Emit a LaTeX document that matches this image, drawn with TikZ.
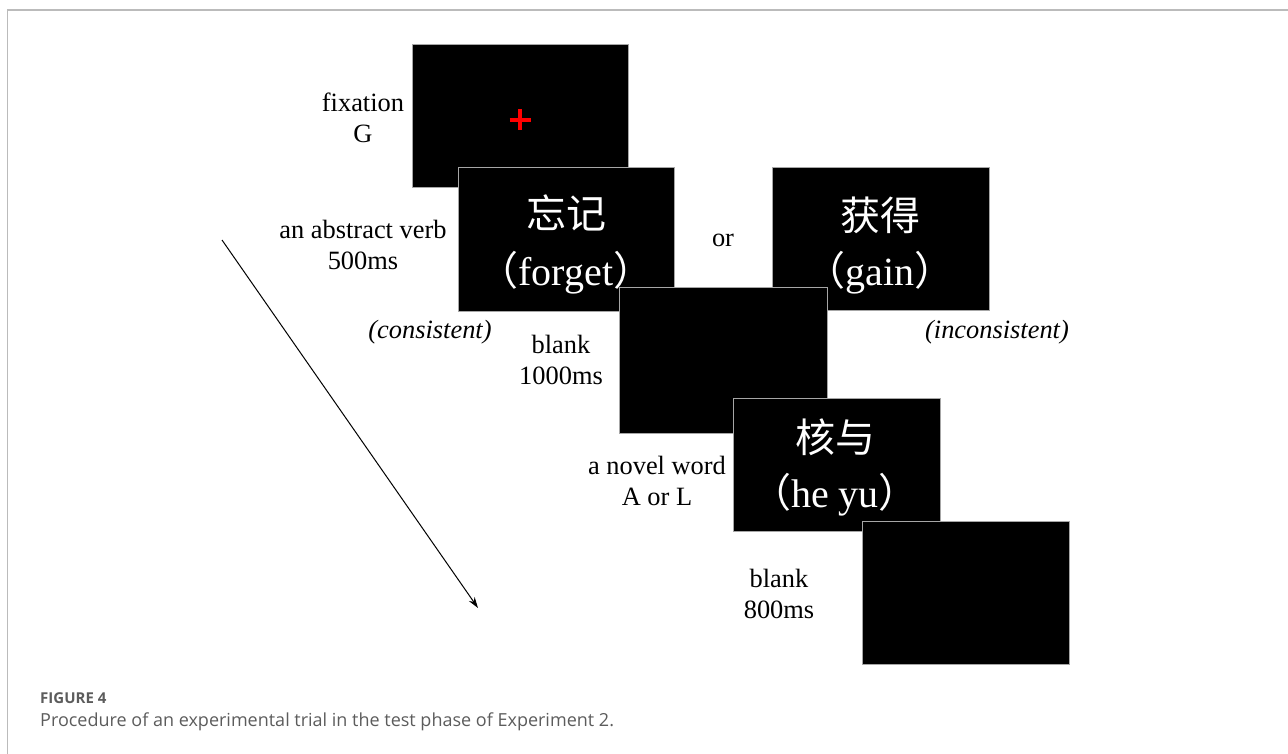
\documentclass[tikz,border=0pt]{standalone}
\usepackage{fontspec}
\setmainfont{Liberation Serif}
\newfontfamily\cjk{Noto Sans CJK SC}
\newfontfamily\capfont{Open Sans}
\usetikzlibrary{arrows.meta}
\definecolor{framegray}{HTML}{BBBBBB}
\definecolor{capgray}{HTML}{5C5C5C}
\tikzset{
  screen/.style={fill=black, draw=gray!70, line width=0.8pt, anchor=north west, inner sep=0pt},
  lbl/.style={align=center, inner sep=0pt, font=\fontsize{26.4}{31}\selectfont},
  ilbl/.style={inner sep=0pt, font=\fontsize{26.4}{31}\selectfont\itshape},
  cjkword/.style={text=white, inner sep=0pt, font=\fontsize{40}{44}\selectfont\cjk},
  latword/.style={text=white, inner sep=0pt, font=\fontsize{40}{44}\selectfont},
}
\begin{document}
\begin{tikzpicture}[x=1pt,y=-1pt]
\useasboundingbox (0,0) rectangle (1288,754);
% frame
\draw[framegray, line width=1.5pt] (7.3,760) -- (7.3,10) -- (1295,10);
% screens (drawn back to front)
\node[screen, minimum width=216pt, minimum height=143pt] (s1) at (412,44) {};
\draw[red, line width=4pt] (509.5,120) -- (530.5,120);
\draw[red, line width=4pt] (520,109.5) -- (520,130.5);
\node[screen, minimum width=216pt, minimum height=144pt] (s2) at (458,167) {};
\node[screen, minimum width=217pt, minimum height=143pt] (s3) at (772,167) {};
\node[screen, minimum width=208pt, minimum height=146pt] (s4) at (619,287) {};
\node[screen, minimum width=207pt, minimum height=133pt] (s5) at (733,398) {};
\node[screen, minimum width=207pt, minimum height=143pt] (s6) at (862,521) {};
% words on screens
\node[cjkword] (w1) at (566,213) {忘记};
\node[latword] (w1b) at (566,273) {{\cjk （}forget{\cjk ）}};
\node[cjkword] (w2) at (880,215) {获得};
\node[latword] (w2b) at (880,273) {{\cjk （}gain{\cjk ）}};
\node[cjkword] (w3) at (835,437) {核与};
\node[latword] (w3b) at (835,495) {{\cjk （}he yu{\cjk ）}};
% labels
\node[lbl] (l1) at (363,117.5) {fixation\\G};
\node[lbl] (l2) at (363,245) {an abstract verb\\500ms};
\node[ilbl] (l3) at (430,332) {(consistent)};
\node[lbl] (l4) at (723,240) {or};
\node[ilbl] (l5) at (997,332) {(inconsistent)};
\node[lbl] (l6) at (561,360) {blank\\1000ms};
\node[lbl] (l7) at (657,481) {a novel word\\A or L};
\node[lbl] (l8) at (779,594) {blank\\800ms};
% time arrow
\coordinate (as) at (222,240);
\coordinate (ae) at (478,608);
\draw[line width=1pt, -{Stealth[length=11pt,width=7pt]}] (as) -- (ae);
% caption
\node[anchor=west, inner sep=0pt, text=capgray, font=\capfont\bfseries\fontsize{15}{17}\selectfont] (fig) at (40,698) {FIGURE 4};
\node[anchor=base west, inner sep=0pt, text=capgray, font=\capfont\fontsize{18}{20}\selectfont] (cap) at (40,726) {Procedure of an experimental trial in the test phase of Experiment 2.};
\end{tikzpicture}
\end{document}
